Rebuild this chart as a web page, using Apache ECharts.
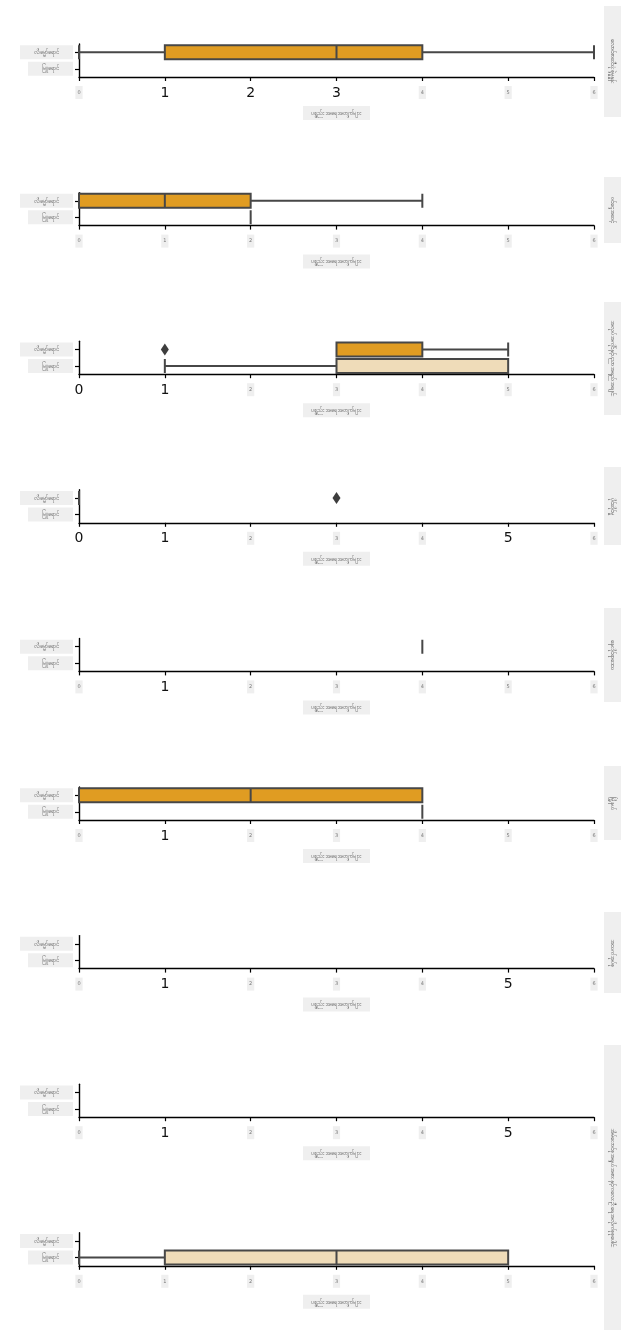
<!DOCTYPE html>
<html>
<head>
<meta charset="utf-8">
<script src="https://cdn.jsdelivr.net/npm/echarts@6/dist/echarts.min.js"></script>
<style>
  html, body { margin: 0; padding: 0; background: #fff; }
  #main { width: 628px; height: 1337px; }
</style>
</head>
<body>
<div id="main"></div>
<script>
// categories (hue levels) and facet titles
const categories = ['လိမ္မော်ရောင်', 'မြူရောင်'];
const axisName = 'ပစ္စည်းအရေအတွက်များ';
const facetLabels = [
  'လောင်စာဆီသုံးစွဲမှုနှုန်း',
  'ဝင်ငွေအဆင့်',
  'အလုပ်အကိုင်နှင့်ပညာအရည်အချင်း',
  'ပိုင်ဆိုင်မှု',
  'နေထိုင်ရာဒေသ',
  'မြို့နယ်',
  'အသက်အုပ်စု',
  '',
  'အိမ်ထောင်စုအရွယ်အစားနှင့်ကလေးဦးရေအလိုက်စုစုပေါင်း'
];
const xTicks = [0, 1, 2, 3, 4, 5, 6];

// box stats per panel: [min, Q1, median, Q3, max] for orange, light
const orangeBoxes = [
  [0, 1, 3, 4, 6],
  [0, 0, 1, 2, 4],
  [3, 3, 3, 4, 5],
  [0, 0, 0, 0, 0],
  [4, 4, 4, 4, 4],
  [0, 0, 2, 4, 4],
  null,
  null,
  null
];
const lightBoxes = [
  null,
  [2, 2, 2, 2, 2],
  [1, 3, 3, 5, 5],
  null,
  null,
  [4, 4, 4, 4, 4],
  null,
  null,
  [0, 1, 3, 5, 5]
];
// outliers per panel: [value, category index]
const outliers = [
  [], [], [[1, 0]], [[3, 0]], [], [], [], [], []
];
// tick labels that appear large in each panel
const bigTicks = [
  [1, 2, 3], [], [0, 1], [0, 1, 5], [1], [1], [1, 5], [1, 5], []
];

const ORANGE = '#e09c22';
const LIGHT = '#efdcb9';
const EDGE = '#474747';
const GREYBOX = '#efefef';

const panelTop0 = 44, panelStep = 148.6, panelH = 33;
const facetBoxes = [ // [top, bottom] of the grey title strips
  [6, 117], [177, 243], [302, 415], [467, 545], [608, 702],
  [766, 840], [912, 993], null, [1045, 1330]
];

const chart = echarts.init(document.getElementById('main'), null, { renderer: 'canvas' });

const grids = [], xAxes = [], yAxes = [], series = [], graphics = [];
const missing = ['-', '-', '-', '-', '-'];

for (let i = 0; i < 9; i++) {
  const top = panelTop0 + panelStep * i;
  grids.push({ left: 79, right: 34, top: top, height: panelH });
  const big = bigTicks[i];
  xAxes.push({
    type: 'value', gridIndex: i, min: 0, max: 6, interval: 1,
    splitLine: { show: false },
    axisLine: { show: true, lineStyle: { color: '#000', width: 1.4 } },
    axisTick: { show: true, length: 4, lineStyle: { color: '#000', width: 1.2 } },
    axisLabel: {
      margin: 9,
      formatter: v => big.indexOf(v) >= 0 ? '{b|' + v + '}' : '{s|' + v + '}',
      rich: {
        b: { fontSize: 14, color: '#111', fontFamily: 'DejaVu Sans' },
        s: { fontSize: 5, color: '#777', backgroundColor: GREYBOX, padding: [4, 2], fontFamily: 'DejaVu Sans' }
      }
    },
    name: axisName, nameLocation: 'middle', nameGap: 29,
    nameTextStyle: {
      fontSize: 6, color: '#555', backgroundColor: GREYBOX,
      padding: [4, 8], fontFamily: 'Noto Sans'
    }
  });
  yAxes.push({
    type: 'category', gridIndex: i, data: categories, inverse: true,
    axisLine: { show: true, onZero: false, lineStyle: { color: '#000', width: 1.4 } },
    axisTick: { show: true, length: 4, alignWithLabel: true, lineStyle: { color: '#000', width: 1.2 } },
    axisLabel: {
      margin: 6, fontSize: 6, color: '#555', fontFamily: 'Noto Sans',
      backgroundColor: GREYBOX, padding: [4, 14]
    },
    splitLine: { show: false }
  });
  const boxData = [
    orangeBoxes[i] ? { value: orangeBoxes[i], itemStyle: { color: ORANGE } } : missing,
    lightBoxes[i] ? { value: lightBoxes[i], itemStyle: { color: LIGHT } } : missing
  ];
  series.push({
    type: 'boxplot', xAxisIndex: i, yAxisIndex: i, layout: 'horizontal',
    boxWidth: [14, 14], data: boxData, silent: true,
    itemStyle: { borderColor: EDGE, borderWidth: 2 }
  });
  if (outliers[i].length) {
    series.push({
      type: 'scatter', xAxisIndex: i, yAxisIndex: i, symbol: 'diamond',
      symbolSize: [8, 12], silent: true,
      itemStyle: { color: '#3d3d3d', opacity: 1 },
      data: outliers[i].map(o => [o[0], categories[o[1]]])
    });
  }
  if (facetBoxes[i]) {
    const [t, b] = facetBoxes[i];
    graphics.push({
      type: 'rect', shape: { x: 604, y: t, width: 17, height: b - t },
      style: { fill: GREYBOX }, silent: true
    });
    graphics.push({
      type: 'text', x: 612.5, y: (t + b) / 2, rotation: -Math.PI / 2,
      style: {
        text: facetLabels[i], fontSize: 6, fill: '#555', fontFamily: 'Noto Sans',
        align: 'center', verticalAlign: 'middle'
      }, silent: true
    });
  }
}

chart.setOption({
  animation: false,
  backgroundColor: '#fff',
  grid: grids,
  xAxis: xAxes,
  yAxis: yAxes,
  series: series,
  graphic: graphics
});
</script>
</body>
</html>
